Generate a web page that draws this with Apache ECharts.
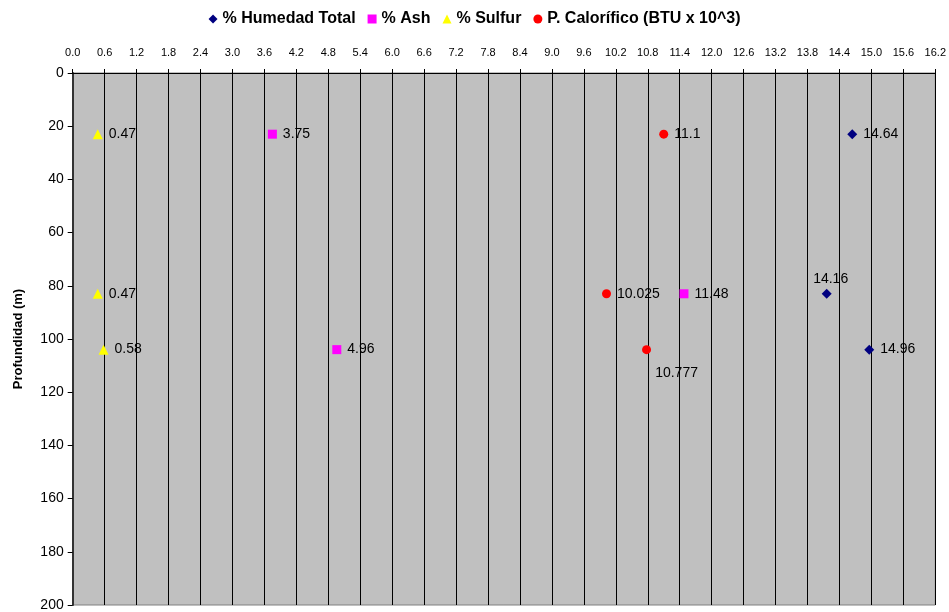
<!DOCTYPE html>
<html><head><meta charset="utf-8">
<script src="https://cdn.jsdelivr.net/npm/echarts@6/dist/echarts.min.js"></script>
<style>html,body{margin:0;padding:0;background:#fff}#c{width:949px;height:612px}</style>
</head><body><div id="c"></div>
<script>
const depths = [23, 83, 104];
const humedad = [14.64, 14.16, 14.96];
const ash = [3.75, 11.48, 4.96];
const sulfur = [0.47, 0.47, 0.58];
const calorifico = [11.1, 10.025, 10.777];
const seriesNames = ['% Humedad Total', '% Ash', '% Sulfur', 'P. Calorífico (BTU x 10^3)'];
const xTicks = ['0.0','0.6','1.2','1.8','2.4','3.0','3.6','4.2','4.8','5.4','6.0','6.6','7.2','7.8','8.4','9.0','9.6','10.2','10.8','11.4','12.0','12.6','13.2','13.8','14.4','15.0','15.6','16.2'];
const yTicks = [0,20,40,60,80,100,120,140,160,180,200];

const labelBase = {show:true, position:'right', distance:6, color:'#000', opacity:1, fontFamily:'Arial, Liberation Sans', fontSize:14, formatter:p=>String(p.value[0])};
function pts(vals, special){
  return vals.map((v,i)=>{
    const d = {value:[v, depths[i]]};
    if (special && special[i]) d.label = special[i];
    return d;
  });
}
const chart = echarts.init(document.getElementById('c'), null, {renderer:'canvas'});
chart.setOption({
  animation:false,
  backgroundColor:'#fff',
  legend:{
    top:6, left:'center', itemWidth:9, itemHeight:9, itemGap:12,
    textStyle:{fontFamily:'Arial, Liberation Sans', fontWeight:'bold', fontSize:16, color:'#000'},
    data:seriesNames
  },
  grid:{left:72.7, right:13, top:73, bottom:7, show:true, backgroundColor:'#C0C0C0', borderColor:'#808080', borderWidth:1},
  xAxis:{
    type:'value', position:'top', min:0, max:16.2, interval:0.6,
    axisLine:{show:true, lineStyle:{color:'#000', width:1}},
    axisTick:{show:true, inside:false, length:4, lineStyle:{color:'#000'}},
    axisLabel:{fontFamily:'Arial, Liberation Sans', fontSize:11, color:'#000', margin:15,
      formatter:v=>xTicks[Math.round(v/0.6)] ?? v.toFixed(1)},
    splitLine:{show:true, lineStyle:{color:'#000', width:1}}
  },
  yAxis:{
    type:'value', inverse:true, min:0, max:200, interval:20,
    name:'Profundidad (m)', nameLocation:'middle', nameRotate:90, nameGap:48,
    nameTextStyle:{fontFamily:'Arial, Liberation Sans', fontWeight:'bold', fontSize:13, color:'#000'},
    axisLine:{show:true, lineStyle:{color:'#333', width:2}},
    axisTick:{show:true, length:5, lineStyle:{color:'#000'}},
    axisLabel:{fontFamily:'Arial, Liberation Sans', fontSize:14, color:'#000', margin:9,
      formatter:v=>String(yTicks[Math.round(v/20)] ?? v)},
    splitLine:{show:false}
  },
  series:[
    {name:seriesNames[0], type:'scatter', symbol:'diamond', symbolSize:10, itemStyle:{color:'#000080', opacity:1},
     label:labelBase, data:pts(humedad, {1:{position:'top', distance:3, offset:[4,0]}})},
    {name:seriesNames[1], type:'scatter', symbol:'rect', symbolSize:9, itemStyle:{color:'#FF00FF', opacity:1},
     label:labelBase, data:pts(ash)},
    {name:seriesNames[2], type:'scatter', symbol:'triangle', symbolSize:10, itemStyle:{color:'#FFFF00', opacity:1},
     label:labelBase, data:pts(sulfur)},
    {name:seriesNames[3], type:'scatter', symbol:'circle', symbolSize:9, itemStyle:{color:'#FF0000', opacity:1},
     label:labelBase, data:pts(calorifico, {2:{position:'bottom', distance:5, offset:[30,7]}})}
  ]
});
</script></body></html>
